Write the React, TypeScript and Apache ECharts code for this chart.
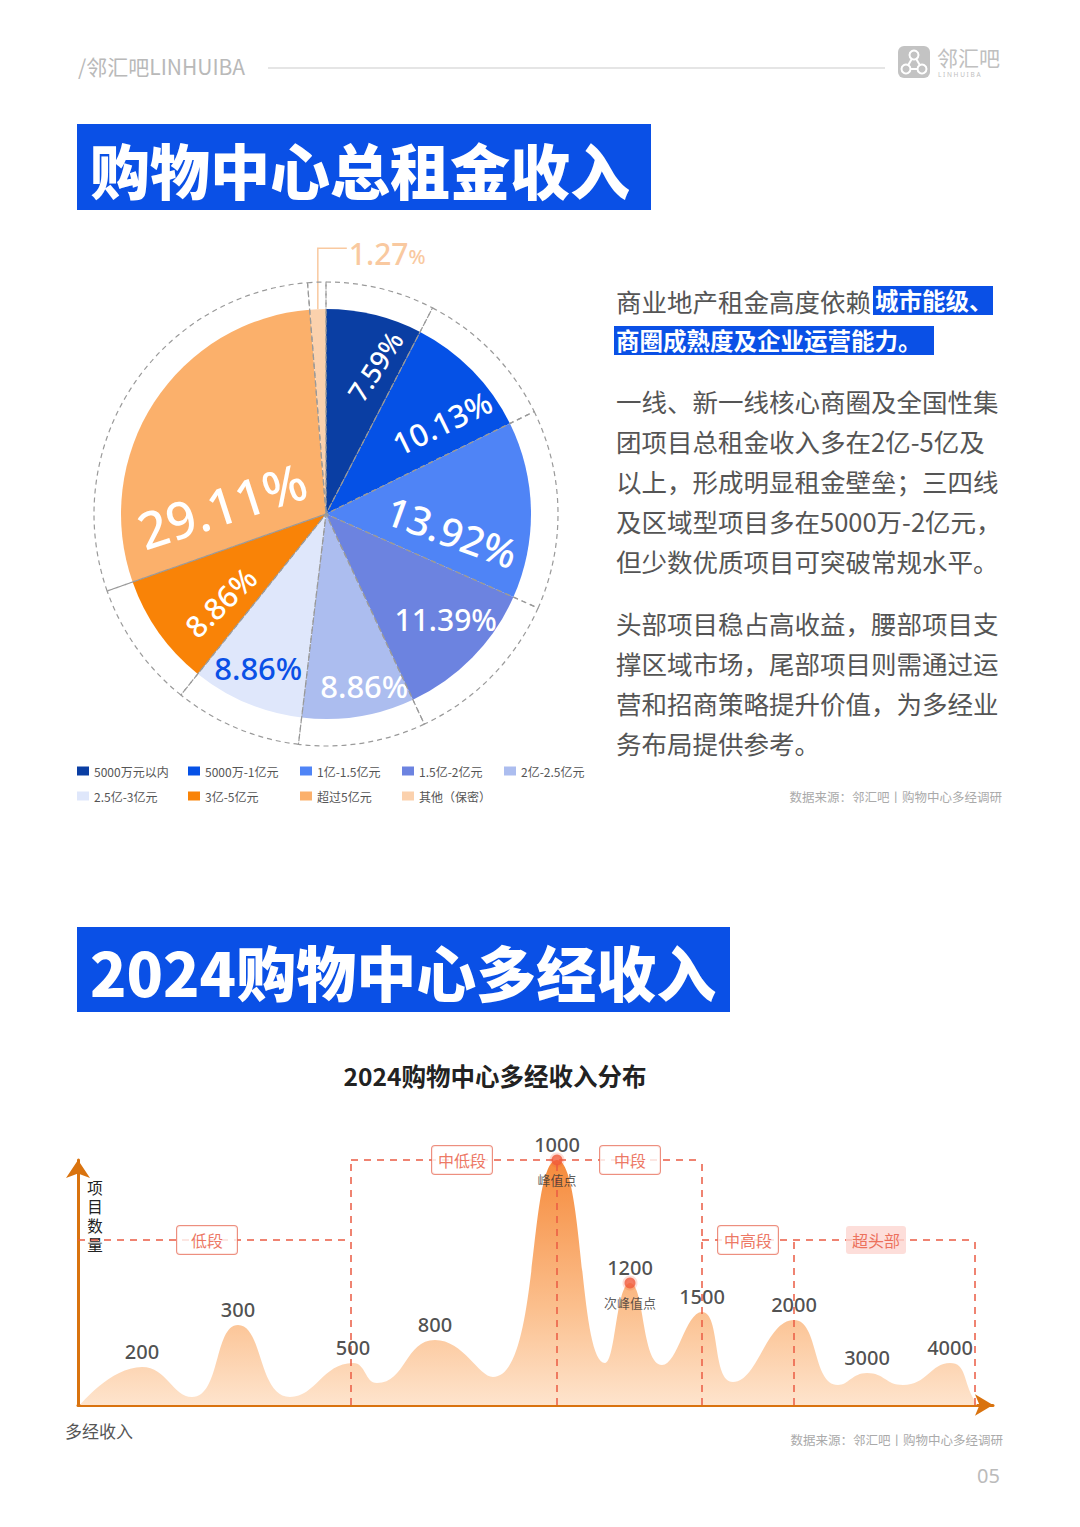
import React, { useEffect, useRef } from 'react';
import * as echarts from 'echarts';

// ---------- data ----------
const pieNames = ['5000万元以内', '5000万-1亿元', '1亿-1.5亿元', '1.5亿-2亿元', '2亿-2.5亿元', '2.5亿-3亿元', '3亿-5亿元', '超过5亿元', '其他（保密）'];
const pieValues = [7.59, 10.13, 13.92, 11.39, 8.86, 8.86, 8.86, 29.11, 1.27];
const pieColors = ['#0a3ea3', '#0551e6', '#4f84f6', '#6c83e0', '#acbdef', '#dfe7fb', '#f98307', '#fbb06b', '#fbd1ad'];

// area curve (position along axis, project count height)
const curveX = [2, 64, 114, 160, 212, 275, 299, 357, 415, 479, 527, 552, 584, 624, 655, 716, 760, 789, 825, 872, 897, 899];
const curveY = [0, 38, 8, 80, 8, 42, 22, 65, 28, 245, 42, 122, 40, 93, 23, 85, 20, 32, 20, 42, 4, 0];
const peakLabels = ['', '200', '', '300', '', '500', '', '800', '', '1000', '', '1200', '', '1500', '', '2000', '', '3000', '', '4000', '', ''];

const peakDotX = [479, 552];
const peakDotY = [245, 122];
const peakDotNames = ['峰值点', '次峰值点'];

const segNames = ['低段', '中低段', '中段', '中高段', '超头部'];
const segLabelX = [129, 384, 552, 670, 798];
const segLabelY = [165, 245, 245, 165, 165];
// dashed bracket segments [x1, y1, x2, y2]
const segLines = [
  [0, 165, 273, 165],
  [273, 0, 273, 245],
  [273, 245, 624, 245],
  [479, 0, 479, 245],
  [624, 0, 624, 245],
  [624, 165, 897, 165],
  [716, 0, 716, 165],
  [897, 0, 897, 165],
];

const para1 = ['一线、新一线核心商圈及全国性集', '团项目总租金收入多在2亿-5亿及', '以上，形成明显租金壁垒；三四线', '及区域型项目多在5000万-2亿元，', '但少数优质项目可突破常规水平。'];
const para2 = ['头部项目稳占高收益，腰部项目支', '撑区域市场，尾部项目则需通过运', '营和招商策略提升价值，为多经业', '务布局提供参考。'];

// ---------- style / layout ----------
const CJK = '"Noto Sans CJK SC", "Noto Sans", sans-serif';
const NUM = '"Noto Sans", "Noto Sans CJK SC", sans-serif';
const BLUE = '#0a50e6';
const PIE_C = [326, 514];
const PIE_R = 205;
const RING_R = 232;
const pieLabelStyle = [
  { r: 0.76, shift: 4.7, rot: 57, size: 27, color: '#fff' },
  { r: 0.72, shift: 6.3, rot: 26, size: 31, color: '#fff' },
  { r: 0.62, shift: 9.2, rot: -20, size: 40, color: '#fff' },
  { r: 0.78, shift: -2.9, rot: 0, size: 30, color: '#fff' },
  { r: 0.86, shift: -3.4, rot: 0, size: 31, color: '#fff' },
  { r: 0.82, shift: 1, rot: 0, size: 31, color: BLUE },
  { r: 0.67, shift: -4.6, rot: 44, size: 30, color: '#fff' },
  { r: 0.51, shift: -28, rot: 18, size: 51, color: '#fff' },
  { r: 1, shift: 0, rot: 0, size: 30, color: '#f9c9a0' },
];
const legendCols = [77, 188, 300, 402, 504];

function T(x: number, y: number, text: string, fontSize: number, fill: string, extra: any = {}) {
  const align = extra.align || 'left';
  const va = extra.va || 'middle';
  return {
    type: 'text', x, y, silent: true,
    style: {
      text, fontSize, fill, fontFamily: extra.fontFamily || CJK, fontWeight: extra.fontWeight || 'normal',
      align, textAlign: align, verticalAlign: va, textVerticalAlign: va,
      lineHeight: extra.lineHeight,
    },
  };
}

export default function App() {
  const ref = useRef<HTMLDivElement>(null);
  useEffect(() => {
    if (!ref.current) return;
    const chart = echarts.init(ref.current, null, { renderer: 'svg' });

    const total = pieValues.reduce((a, b) => a + b, 0);
    const mids: number[] = [];
    let acc = 0;
    pieValues.forEach((v) => { mids.push(((acc + v / 2) / total) * 360); acc += v; });
    const a8 = (mids[8] * Math.PI) / 180;
    const ax = PIE_C[0] + PIE_R * Math.sin(a8);
    const ay = PIE_C[1] - PIE_R * Math.cos(a8);
    const leadPts = [[ax, ay], [ax, ay - 61], [ax + 29, ay - 61]];

    const pieData = pieNames.map((name, i) => {
      const s = pieLabelStyle[i];
      return {
        name, value: pieValues[i],
        itemStyle: { color: pieColors[i] },
        label: i === 8
          ? { formatter: `{a|${pieValues[i]}}{b|%}` }
          : { formatter: `${pieValues[i]}%`, fontSize: s.size, color: s.color },
      };
    });

    const legends = legendCols.map((left, c) => ({
      orient: 'vertical', left, top: 764, padding: 0,
      data: [pieNames[c], pieNames[c + 5]].filter(Boolean),
      itemWidth: 12, itemHeight: 9, itemGap: 11, icon: 'rect', selectedMode: false,
      textStyle: { fontSize: 12, color: '#555', lineHeight: 14, fontFamily: CJK },
    }));

    const peaks = curveX.map((x, i) => ({ value: [x, curveY[i]], name: peakLabels[i] })).filter((d) => d.name);

    const graphic: any[] = [
      T(78, 66, '/邻汇吧LINHUIBA', 21, '#b9b9b9'),
      { type: 'line', silent: true, shape: { x1: 268, y1: 68, x2: 885, y2: 68 }, style: { stroke: '#cccccc', lineWidth: 1.2 } },
      { type: 'rect', silent: true, shape: { x: 898, y: 46, width: 32, height: 32, r: 6 }, style: { fill: '#c3c3c3' } },
      { type: 'line', silent: true, shape: { x1: 914, y1: 55, x2: 906, y2: 69 }, style: { stroke: '#fff', lineWidth: 2 } },
      { type: 'line', silent: true, shape: { x1: 914, y1: 55, x2: 922, y2: 69 }, style: { stroke: '#fff', lineWidth: 2 } },
      { type: 'line', silent: true, shape: { x1: 906, y1: 69, x2: 922, y2: 69 }, style: { stroke: '#fff', lineWidth: 2 } },
      { type: 'circle', silent: true, shape: { cx: 914, cy: 55, r: 4.5 }, style: { fill: '#c3c3c3', stroke: '#fff', lineWidth: 2 } },
      { type: 'circle', silent: true, shape: { cx: 906, cy: 69, r: 4.5 }, style: { fill: '#c3c3c3', stroke: '#fff', lineWidth: 2 } },
      { type: 'circle', silent: true, shape: { cx: 922, cy: 69, r: 4.5 }, style: { fill: '#c3c3c3', stroke: '#fff', lineWidth: 2 } },
      T(937, 57, '邻汇吧', 21, '#c0c0c0'),
      T(938, 74, 'L I N H U I B A', 6.5, '#c0c0c0', { fontFamily: NUM }),

      { type: 'rect', silent: true, shape: { x: 77, y: 124, width: 574, height: 86 }, style: { fill: BLUE } },
      T(90, 168, '购物中心总租金收入', 60, '#fff', { fontWeight: 900 }),

      T(616, 300, '商业地产租金高度依赖', 25.5, '#555'),
      { type: 'rect', silent: true, shape: { x: 873, y: 286, width: 120, height: 29 }, style: { fill: BLUE } },
      T(875, 300, '城市能级、', 23.5, '#fff', { fontWeight: 'bold' }),
      { type: 'rect', silent: true, shape: { x: 614, y: 326, width: 320, height: 29 }, style: { fill: BLUE } },
      T(616, 340, '商圈成熟度及企业运营能力。', 23.5, '#fff', { fontWeight: 'bold' }),
      T(616, 381, para1.join('\n'), 25.5, '#555', { va: 'top', lineHeight: 39.8 }),
      T(616, 602, para2.join('\n'), 25.5, '#555', { va: 'top', lineHeight: 40 }),
      T(1002, 796, '数据来源：邻汇吧丨购物中心多经调研', 12.5, '#aaa', { align: 'right' }),

      { type: 'polyline', silent: true, shape: { points: leadPts }, style: { stroke: '#f9c9a0', lineWidth: 1.5, fill: 'none' } },

      { type: 'rect', silent: true, shape: { x: 77, y: 927, width: 653, height: 85 }, style: { fill: BLUE } },
      T(90, 970, '2024购物中心多经收入', 60, '#fff', { fontWeight: 900 }),
      T(495, 1075, '2024购物中心多经收入分布', 24.5, '#222', { align: 'center', fontWeight: 'bold' }),
      T(95, 1215, '项\n目\n数\n量', 15.5, '#222', { align: 'center', lineHeight: 19 }),
      T(65, 1430, '多经收入', 17, '#555'),
      T(1003, 1439, '数据来源：邻汇吧丨购物中心多经调研', 12.5, '#aaa', { align: 'right' }),
      T(1000, 1475, '05', 20, '#bbb', { align: 'right', fontFamily: NUM }),
    ];

    const option: any = {
      animation: false,
      backgroundColor: '#fff',
      legend: legends,
      graphic,
      grid: { left: 78, top: 1160, width: 915, height: 245, outerBoundsMode: 'none' },
      xAxis: {
        type: 'value', min: 0, max: 915,
        axisLine: { show: true, symbol: ['none', 'arrow'], symbolSize: [16, 18], lineStyle: { color: '#d9730f', width: 3 } },
        axisTick: { show: false }, axisLabel: { show: false }, splitLine: { show: false },
      },
      yAxis: {
        type: 'value', min: 0, max: 245,
        axisLine: { show: true, symbol: ['none', 'arrow'], symbolSize: [18, 18], lineStyle: { color: '#d9730f', width: 3 } },
        axisTick: { show: false }, axisLabel: { show: false }, splitLine: { show: false },
      },
      series: [
        {
          type: 'pie', name: 'rent', center: PIE_C, radius: [0, PIE_R], startAngle: 90, clockwise: true,
          avoidLabelOverlap: false, z: 2, silent: true,
          data: pieData,
          label: {
            show: true, position: 'inside', fontFamily: NUM, fontWeight: 500,
            rich: {
              a: { fontSize: 30, color: '#f9c9a0', fontFamily: NUM, fontWeight: 500 },
              b: { fontSize: 20, color: '#f9c9a0', fontFamily: NUM, fontWeight: 500, padding: [6, 0, 0, 0] },
            },
          },
          labelLine: { show: false },
          labelLayout: (params: any) => {
            const i = params.dataIndex;
            if (i === 8) {
              return { x: leadPts[2][0] + 2, y: leadPts[2][1] + 5, align: 'left', verticalAlign: 'middle', rotate: 0 };
            }
            const s = pieLabelStyle[i];
            const a = ((mids[i] + s.shift) * Math.PI) / 180;
            const r = PIE_R * s.r;
            return { x: PIE_C[0] + r * Math.sin(a), y: PIE_C[1] - r * Math.cos(a), align: 'center', verticalAlign: 'middle', rotate: s.rot };
          },
          emphasis: { disabled: true },
        },
        {
          type: 'pie', name: 'ring', center: PIE_C, radius: [0, RING_R], startAngle: 90, clockwise: true, z: 3, silent: true,
          data: pieValues.map((v, i) => ({ name: 'ring' + i, value: v })),
          itemStyle: { color: 'rgba(0,0,0,0)', borderColor: '#9a9a9a', borderType: [5, 4], borderWidth: 1.2 },
          label: { show: false }, labelLine: { show: false }, emphasis: { disabled: true },
        },
        {
          type: 'line', name: 'income', data: curveX.map((x, i) => [x, curveY[i]]), smooth: 0.5, symbol: 'none',
          lineStyle: { width: 0 }, clip: false, z: 2, silent: true,
          areaStyle: {
            opacity: 1,
            color: {
              type: 'linear', x: 0, y: 0, x2: 0, y2: 1,
              colorStops: [
                { offset: 0, color: '#f68a3b' },
                { offset: 0.6, color: '#fbbf8d' },
                { offset: 1, color: '#fee4cd' },
              ],
            },
          },
          markLine: {
            silent: true, symbol: ['none', 'none'], label: { show: false }, emphasis: { disabled: true },
            lineStyle: { color: '#ea5b43', type: [7, 6], width: 1.5 },
            data: segLines.map((s) => [{ coord: [s[0], s[1]] }, { coord: [s[2], s[3]] }]),
          },
        },
        {
          type: 'scatter', name: 'peakValues', data: peaks, symbolSize: 1, z: 6, silent: true,
          itemStyle: { color: 'rgba(0,0,0,0)' },
          label: { show: true, position: 'top', distance: 5, formatter: '{b}', fontSize: 20, color: '#222', fontFamily: NUM, fontWeight: 500 },
          emphasis: { disabled: true },
        },
        {
          type: 'scatter', name: 'peakDots', z: 7, silent: true,
          data: peakDotX.map((x, i) => ({ value: [x, peakDotY[i]], name: peakDotNames[i] })),
          symbolSize: 11,
          itemStyle: { color: '#f15a3b', borderColor: 'rgba(241,90,59,0.25)', borderWidth: 4 },
          label: { show: true, position: 'bottom', distance: 5, formatter: '{b}', fontSize: 13, color: '#333', fontFamily: CJK },
          emphasis: { disabled: true },
        },
        {
          type: 'scatter', name: 'segments', z: 10, silent: true, symbolSize: 1,
          itemStyle: { color: 'rgba(0,0,0,0)' },
          data: segNames.map((n, i) => ({
            value: [segLabelX[i], segLabelY[i]], name: n,
            label: n === '超头部' ? { backgroundColor: '#fcd6d1', borderWidth: 0 } : undefined,
          })),
          label: {
            show: true, position: 'inside', formatter: '{b}', fontSize: 16, color: '#e8543a', fontFamily: CJK,
            backgroundColor: '#fff', borderColor: '#e8735f', borderWidth: 1, borderRadius: 3,
            width: 46, align: 'center', lineHeight: 18, padding: [5, 7],
          },
          emphasis: { disabled: true },
        },
      ],
    };
    chart.setOption(option);
    return () => chart.dispose();
  }, []);
  return <div ref={ref} style={{ position: 'absolute', left: 0, top: 0, width: 1080, height: 1527, background: '#fff' }} />;
}
